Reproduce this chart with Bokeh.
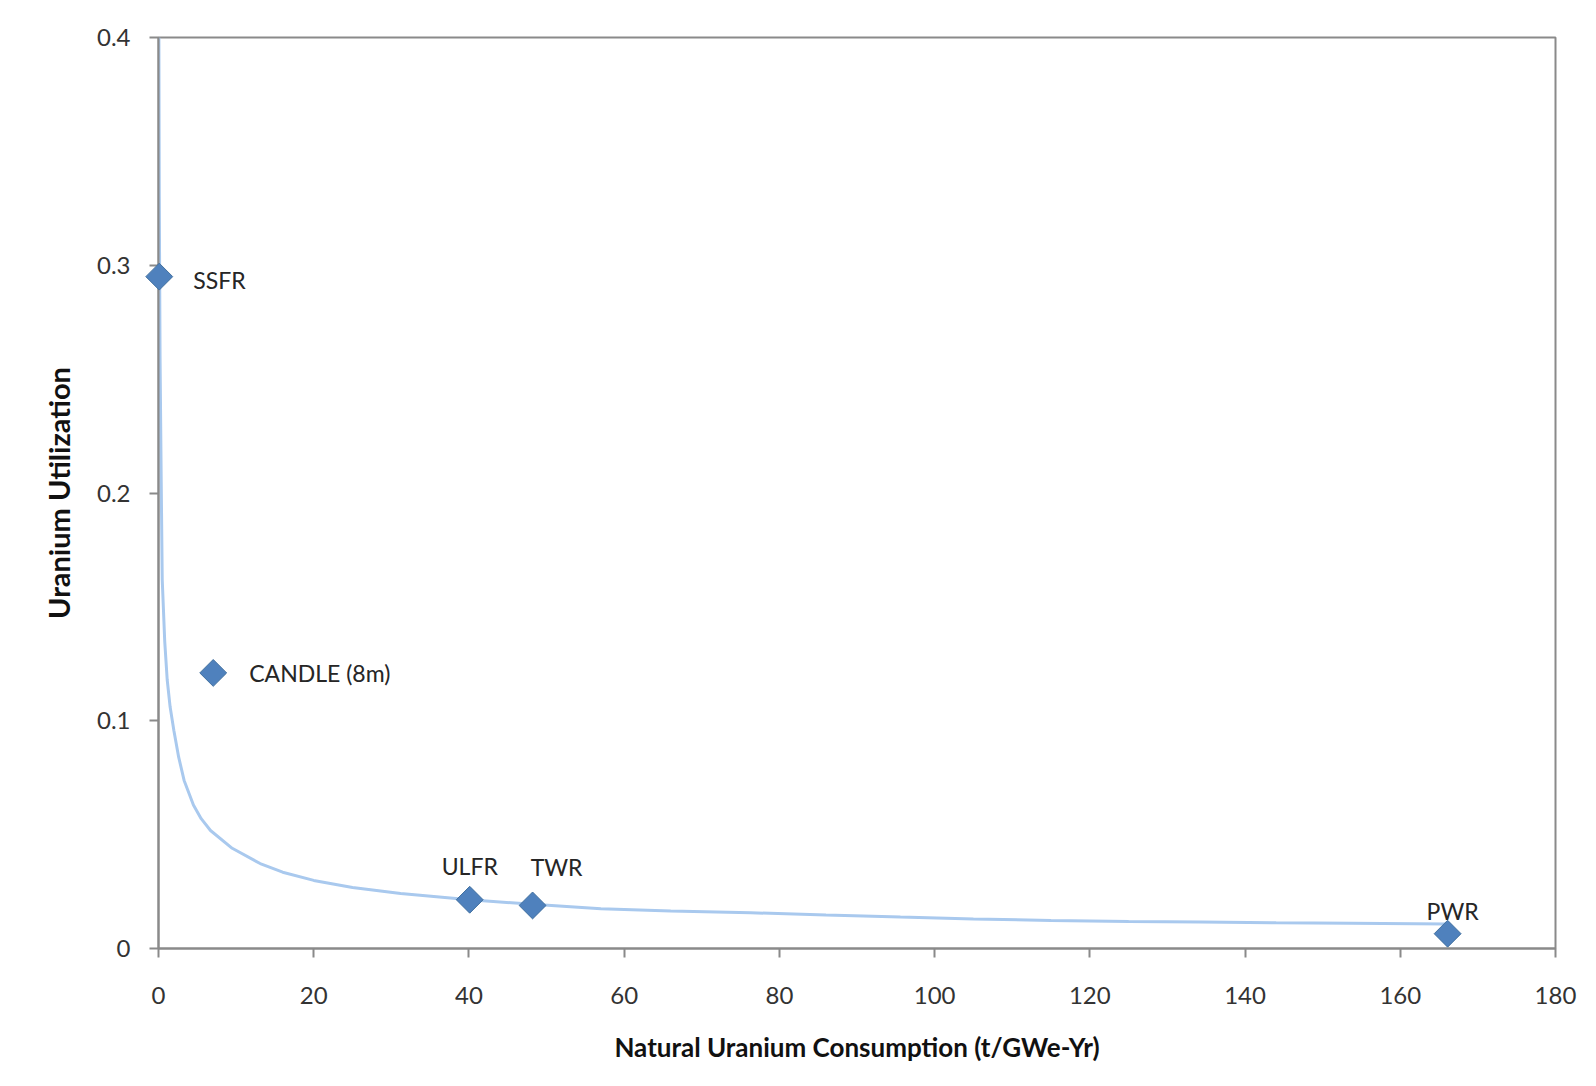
import math
from bokeh.plotting import figure
from bokeh.models import ColumnDataSource, FixedTicker, Range1d
from bokeh.core.properties import value
from bokeh.embed import file_html
from bokeh.resources import INLINE

# ---- data ----
curve_x = [0.05, 0.1, 0.2, 0.35, 0.48, 0.8, 1.12, 1.5, 1.98, 2.6, 3.3, 4.5, 5.5, 6.7,
           9.5, 13.1, 16.0, 20.0, 25.0, 31.2, 40.1, 48.2, 57.0, 66.0, 76.3, 86.0,
           95.6, 105.0, 115.0, 125.0, 134.3, 144.0, 153.6, 166.0]
curve_y = [0.400, 0.330, 0.260, 0.205, 0.162, 0.135, 0.118, 0.106, 0.0957, 0.084,
           0.0738, 0.063, 0.057, 0.0518, 0.044, 0.0373, 0.0335, 0.0299, 0.0268,
           0.0241, 0.0214, 0.0194, 0.0174, 0.0165, 0.0157, 0.0147, 0.0138, 0.0130,
           0.0123, 0.0119, 0.0116, 0.0113, 0.0111, 0.0108]

reactors = ["SSFR", "CANDLE (8m)", "ULFR", "TWR", "PWR"]
consumption = [0.1, 7.05, 40.1, 48.2, 166.1]
utilization = [0.295, 0.121, 0.0214, 0.0189, 0.0065]

x_ticks = [0, 20, 40, 60, 80, 100, 120, 140, 160, 180]
y_ticks = [0, 0.1, 0.2, 0.3, 0.4]
y_tick_labels = ["0", "0.1", "0.2", "0.3", "0.4"]

x_title = "Natural Uranium Consumption (t/GWe-Yr)"
y_title = "Uranium Utilization"

# ---- styling (not data) ----
label_dx = [34, 36, 0, 24, 5]
label_dy = [3, 0, -34, -38, -23]
label_align = ["left", "left", "center", "center", "center"]

FONT = "Lato"
AXIS_COL = "#8a8a8a"
TEXT_COL = "#262626"

p = figure(width=1580, height=1068, output_backend="svg", toolbar_location=None,
           x_range=Range1d(0, 180), y_range=Range1d(0, 0.4),
           min_border_left=158, min_border_right=25, min_border_top=37,
           min_border_bottom=120)

p.xgrid.visible = False
p.ygrid.visible = False
p.outline_line_color = AXIS_COL
p.outline_line_width = 2
p.border_fill_color = "white"
p.background_fill_color = "white"

# curve
p.line(curve_x, curve_y, line_color="#a9c9ee", line_width=3)

# points
src = ColumnDataSource(dict(x=consumption, y=utilization, name=reactors,
                            dx=label_dx, dy=label_dy, align=label_align))
pts = p.scatter("x", "y", source=src, marker="square", size=19, angle=math.pi / 4,
                fill_color="#4f81bd", line_color="#41709f", line_width=1)
pts.level = "overlay"
try:
    if "clip" in pts.properties():
        pts.clip = False
except Exception:
    pass

# labels with faint shadow
p.text("x", "y", text="name", source=src, x_offset="dx", y_offset="dy",
       text_align="align", text_baseline="middle", text_font=value(FONT),
       text_font_size="23px", text_color="#b0b0b0", text_alpha=0.35)
p.text("x", "y", text="name", source=src, x_offset="dx", y_offset="dy",
       text_align="align", text_baseline="middle", text_font=value(FONT),
       text_font_size="23px", text_color=TEXT_COL)

for ax in (p.xaxis[0], p.yaxis[0]):
    ax.axis_line_color = AXIS_COL
    ax.axis_line_width = 2
    ax.major_tick_line_color = AXIS_COL
    ax.major_tick_line_width = 2
    ax.major_tick_out = 9
    ax.major_tick_in = 0
    ax.minor_tick_line_color = None
    ax.major_label_text_font = FONT
    ax.major_label_text_font_size = "24px"
    ax.major_label_text_color = "#333333"
    ax.axis_label_text_font = FONT
    ax.axis_label_text_font_style = "bold"
    ax.axis_label_text_color = "#111111"

p.xaxis.axis_label_text_font_size = "26px"
p.yaxis.axis_label_text_font_size = "29px"

p.xaxis.ticker = FixedTicker(ticks=x_ticks)
p.yaxis.ticker = FixedTicker(ticks=y_ticks)
p.yaxis.major_label_overrides = {t: l for t, l in zip(y_ticks, y_tick_labels)}
p.xaxis.axis_label = x_title
p.yaxis.axis_label = y_title
p.xaxis.major_label_standoff = 29
p.xaxis.axis_label_standoff = 24
p.yaxis.major_label_standoff = 19
p.yaxis.axis_label_standoff = 18

open("out.html", "w").write(file_html(p, INLINE))
